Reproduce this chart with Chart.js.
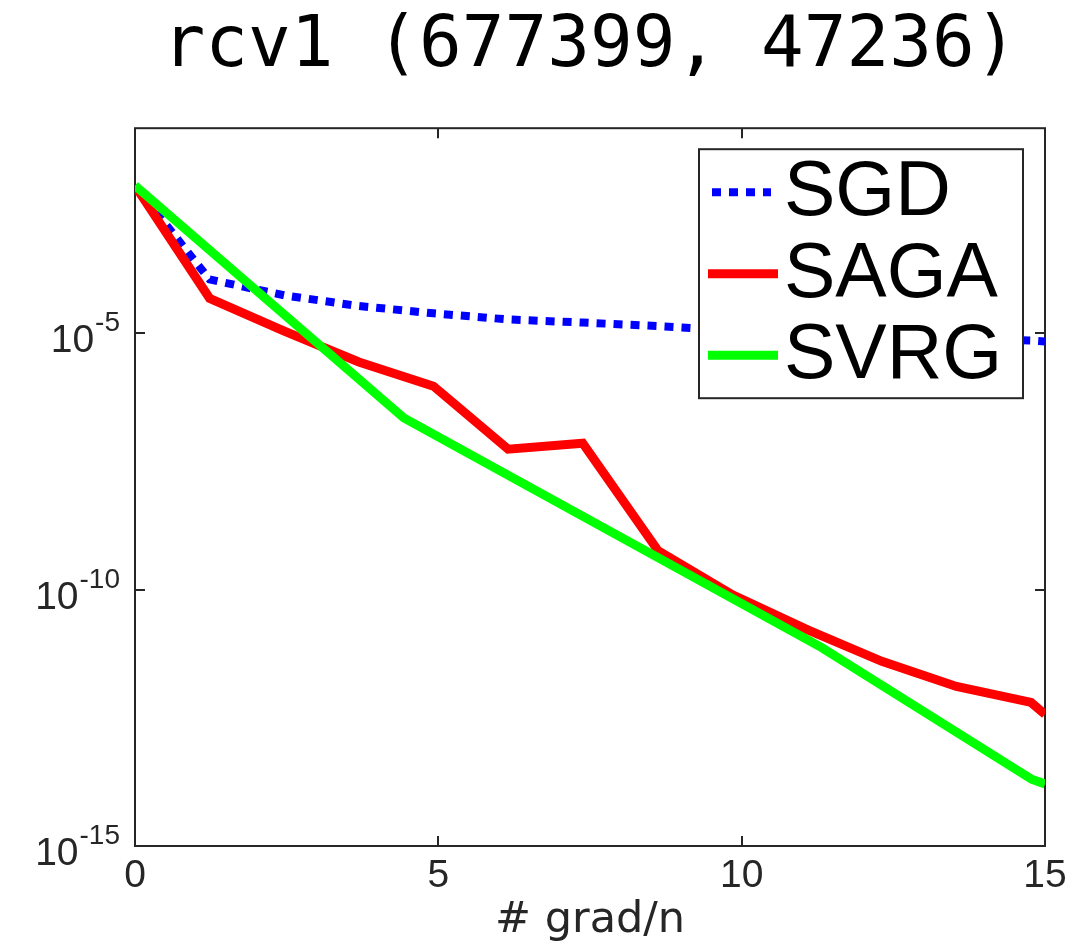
<!DOCTYPE html>
<html>
<head>
<meta charset="utf-8">
<title>rcv1 (677399, 47236)</title>
<script src="https://cdn.jsdelivr.net/npm/chart.js@4.4.1/dist/chart.umd.min.js"></script>
<style>
  html, body { margin: 0; padding: 0; background: #fff; }
  canvas { display: block; }
</style>
</head>
<body>
<canvas id="chart" width="1086" height="951" style="width:1086px;height:951px"></canvas>
<script>
// Passes over the data (# grad/n) at which SGD and SAGA were evaluated
const epochs = [0, 1.23, 2.46, 3.69, 4.92, 6.15, 7.38, 8.62, 9.85, 11.08, 12.31, 13.54, 14.77, 15];
const sgdLoss = [7.6e-3, 1.12e-4, 5.5e-5, 3.4e-5, 2.45e-5, 1.86e-5, 1.62e-5, 1.38e-5, 1.15e-5, 1.0e-5, 8.7e-6, 7.9e-6, 7.2e-6, 6.9e-6];
const sagaLoss = [7.6e-3, 4.8e-5, 1.1e-5, 2.75e-6, 9.3e-7, 5.5e-8, 7.2e-8, 5.8e-10, 7.9e-11, 1.66e-11, 4.0e-12, 1.29e-12, 6.3e-13, 3.7e-13];
// SVRG is evaluated at the end of each outer loop
const svrgGrads = [0, 4.43, 11.32, 14.78, 15];
const svrgLoss = [7.6e-3, 2.24e-7, 7.4e-12, 2.0e-14, 1.62e-14];

const seriesNames = ['SGD', 'SAGA', 'SVRG'];
const xTicks = [0, 5, 10, 15];
const yTicks = [1e-5, 1e-10, 1e-15];
const yTickExponents = ['-5', '-10', '-15'];

const axisColor = '#262626';
const sansFamily = "'Liberation Sans', Arial, Helvetica, sans-serif";

function pairs(xs, ys) {
  return xs.map((x, i) => ({ x: x, y: ys[i] }));
}

// Box around the plot area, inward tick marks and the 10^k labels
const framePlugin = {
  id: 'frame',
  beforeDatasetsDraw(chart) {
    const { ctx, chartArea: a, scales } = chart;
    const xs = scales.x, ys = scales.y;
    const len = 10;
    ctx.save();
    ctx.strokeStyle = axisColor;
    ctx.lineWidth = 2;
    ctx.strokeRect(a.left, a.top, a.right - a.left, a.bottom - a.top);
    ctx.beginPath();
    xTicks.forEach(v => {
      const px = Math.round(xs.getPixelForValue(v));
      ctx.moveTo(px, a.bottom); ctx.lineTo(px, a.bottom - len);
      ctx.moveTo(px, a.top); ctx.lineTo(px, a.top + len);
    });
    yTicks.forEach(v => {
      const py = Math.round(ys.getPixelForValue(v));
      ctx.moveTo(a.left, py); ctx.lineTo(a.left + len, py);
      ctx.moveTo(a.right, py); ctx.lineTo(a.right - len, py);
    });
    ctx.stroke();

    // y tick labels: "10" with a raised exponent
    ctx.fillStyle = axisColor;
    ctx.textBaseline = 'alphabetic';
    ctx.textAlign = 'left';
    const baseFont = '39px ' + sansFamily;
    const supFont = '28px ' + sansFamily;
    yTicks.forEach((v, i) => {
      const py = ys.getPixelForValue(v);
      const endX = a.left - 15;
      ctx.font = supFont;
      const supW = ctx.measureText(yTickExponents[i]).width;
      ctx.fillText(yTickExponents[i], endX - supW, py - 2);
      ctx.font = baseFont;
      const baseW = ctx.measureText('10').width;
      ctx.fillText('10', endX - supW - baseW - 1, py + 19);
    });
    ctx.restore();
  }
};

// Legend box in the upper right corner of the plot area
const legendBoxPlugin = {
  id: 'legendBox',
  afterDatasetsDraw(chart) {
    const { ctx, chartArea: a } = chart;
    const left = a.right - 346, top = a.top + 21, w = 324, h = 249;
    ctx.save();
    ctx.fillStyle = '#fff';
    ctx.fillRect(left, top, w, h);
    ctx.strokeStyle = axisColor;
    ctx.lineWidth = 2;
    ctx.strokeRect(left, top, w, h);
    chart.data.datasets.forEach((ds, i) => {
      const ly = top + 43 + i * 81.5;
      ctx.beginPath();
      ctx.strokeStyle = ds.borderColor;
      ctx.lineWidth = ds.borderWidth;
      ctx.setLineDash(ds.borderDash || []);
      if (ds.borderDash && ds.borderDash.length) {
        ctx.moveTo(left + 13, ly); ctx.lineTo(left + 72, ly);
      } else {
        ctx.moveTo(left + 9, ly); ctx.lineTo(left + 79, ly);
      }
      ctx.stroke();
      ctx.setLineDash([]);
      ctx.fillStyle = '#000';
      ctx.font = '77px ' + sansFamily;
      ctx.textBaseline = 'alphabetic';
      ctx.textAlign = 'left';
      ctx.fillText(ds.label, left + 85, ly + 23);
    });
    ctx.restore();
  }
};

new Chart(document.getElementById('chart'), {
  type: 'line',
  data: {
    datasets: [
      {
        label: seriesNames[0],
        data: pairs(epochs, sgdLoss),
        borderColor: '#0000ff',
        borderWidth: 8,
        borderDash: [9, 8],
        borderCapStyle: 'butt',
        order: 3
      },
      {
        label: seriesNames[1],
        data: pairs(epochs, sagaLoss),
        borderColor: '#ff0000',
        borderWidth: 9,
        borderJoinStyle: 'miter',
        order: 2
      },
      {
        label: seriesNames[2],
        data: pairs(svrgGrads, svrgLoss),
        borderColor: '#00ff00',
        borderWidth: 9,
        borderJoinStyle: 'miter',
        order: 1
      }
    ]
  },
  options: {
    responsive: false,
    animation: false,
    devicePixelRatio: 1,
    events: [],
    elements: {
      point: { radius: 0 },
      line: { tension: 0, fill: false }
    },
    layout: { padding: { left: 0, right: 41, top: 0, bottom: 0 } },
    plugins: {
      legend: { display: false },
      tooltip: { enabled: false },
      title: {
        display: true,
        text: 'rcv1 (677399, 47236)',
        fullSize: false,
        color: '#000',
        font: { family: "'DejaVu Sans Mono', 'Liberation Mono', monospace", size: 71, weight: 'normal', lineHeight: 1.2 },
        padding: { top: 5, bottom: 38 }
      }
    },
    scales: {
      x: {
        type: 'linear',
        min: 0,
        max: 15,
        afterBuildTicks: s => { s.ticks = xTicks.map(v => ({ value: v })); },
        afterFit: s => { s.height = 105; },
        grid: { display: false, drawTicks: false },
        border: { display: false },
        ticks: {
          color: axisColor,
          padding: 7,
          maxRotation: 0,
          autoSkip: false,
          font: { family: sansFamily, size: 39 }
        },
        title: {
          display: true,
          text: '# grad/n',
          color: axisColor,
          font: { family: "'DejaVu Sans', sans-serif", size: 43, lineHeight: 1.2 },
          padding: { top: 0, bottom: 4 }
        }
      },
      y: {
        type: 'logarithmic',
        min: 1e-15,
        max: 1e-1,
        afterBuildTicks: s => { s.ticks = yTicks.map(v => ({ value: v })); },
        afterFit: s => { s.width = 135; },
        grid: { display: false, drawTicks: false },
        border: { display: false },
        ticks: { display: false }
      }
    }
  },
  plugins: [framePlugin, legendBoxPlugin]
});
</script>
</body>
</html>
